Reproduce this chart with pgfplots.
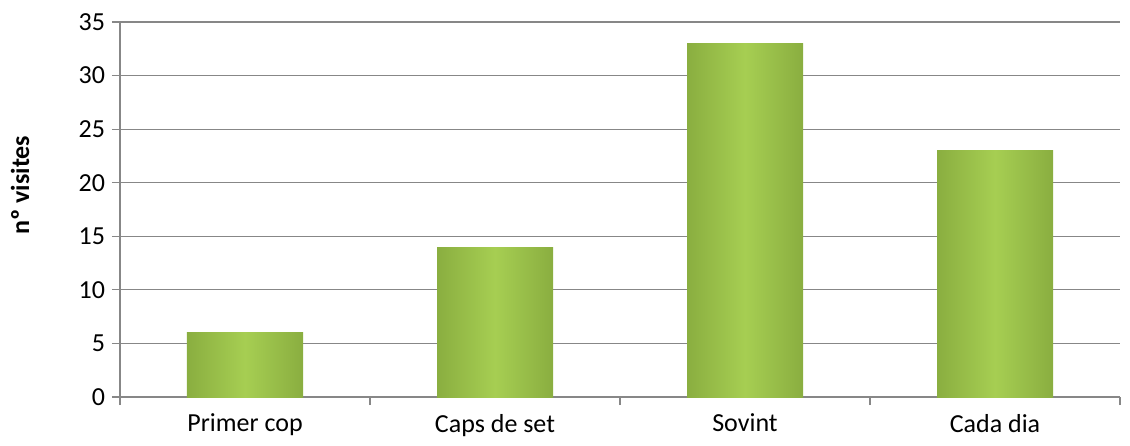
\documentclass[border=0pt]{standalone}
\usepackage{pgfplots}
\pgfplotsset{compat=1.18}
\usepackage{fontspec}
\setmainfont{Carlito}
\definecolor{gridc}{HTML}{878787}
\definecolor{bardark}{HTML}{8AAE40}
\definecolor{barlight}{HTML}{A6CE52}
\pgfplotsset{mybar/.style={draw=none, left color=bardark, right color=bardark, middle color=barlight}}
\begin{document}
\begin{tikzpicture}
\useasboundingbox (-60pt,-24pt) rectangle (505pt,198.5pt);
\begin{axis}[
  at={(0,0)}, anchor=south west,
  scale only axis, width=500pt, height=187.5pt,
  xmin=-0.5, xmax=3.5, ymin=0, ymax=35,
  ytick={0,5,...,35},
  xtick={-0.5,0.5,1.5,2.5,3.5},
  x tick label as interval,
  xticklabels={Primer cop,Caps de set,Sovint,Cada dia},
  axis x line*=bottom, axis y line*=left,
  axis line style={-, draw=gridc, line width=0.6pt},
  ymajorgrids, grid style={draw=gridc, line width=0.6pt},
  tick style={draw=gridc, line width=0.6pt},
  tick align=outside, major tick length=4pt,
  ticklabel style={font=\fontsize{13}{15}\selectfont, text=black},
  /pgf/number format/assume math mode=true,
  ylabel={\textbf{nº visites}},
  ylabel style={font=\fontsize{13}{15}\selectfont, at={(axis description cs:-0.1,0.565)}, anchor=center},
  xticklabel style={yshift=-1pt},
  ybar, bar width=58pt, bar shift=0pt,
]
\addplot[mybar] coordinates {(0,6)};
\addplot[mybar] coordinates {(1,14)};
\addplot[mybar] coordinates {(2,33)};
\addplot[mybar] coordinates {(3,23)};
\end{axis}
\end{tikzpicture}
\end{document}
